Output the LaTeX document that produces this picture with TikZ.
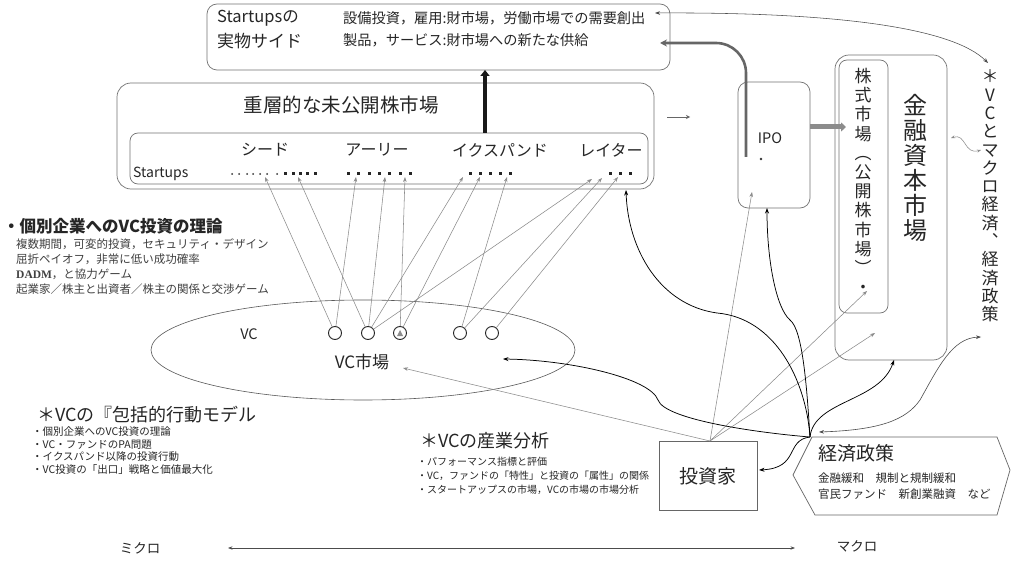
\documentclass[tikz,border=0pt]{standalone}
\usepackage{fontspec}
\setmainfont{Noto Sans CJK JP}
\newfontfamily\serifbf{Liberation Serif}
\usetikzlibrary{arrows.meta,shapes.geometric}
\tikzset{
  box/.style={draw=black!55, line width=0.7pt, rounded corners=10pt, inner sep=0pt},
  garr/.style={draw=black!45, line width=0.55pt, -{Stealth[length=5pt,width=3.6pt]}},
  barr/.style={draw=black, line width=0.75pt, -{Stealth[length=5.5pt,width=4pt]}},
  txt/.style={inner sep=0pt, anchor=west, text=black!85},
  vtxt/.style={inner sep=0pt, align=center, text=black!85},
  vcc/.style={circle, draw=black!85, line width=0.9pt, minimum size=13pt, inner sep=0pt},
  sdot/.style={circle, fill=black!80, minimum size=2pt, inner sep=0pt},
  bdot/.style={rectangle, fill=black!85, minimum size=3pt, inner sep=0pt},
}
\begin{document}
\begin{tikzpicture}[x=1pt,y=-1pt]
\useasboundingbox (0,0) rectangle (1012,564);
\fill[white] (0,0) rectangle (1012,564);

% ---------- boxes ----------
\node[box, minimum width=463pt, minimum height=66pt] (top) at (438.5,37) {};
\node[box, minimum width=537pt, minimum height=106pt, rounded corners=14pt] (big) at (385.5,136) {};
\node[box, minimum width=518pt, minimum height=51pt, rounded corners=8pt] (inner) at (389,158.5) {};
\node[box, minimum width=72pt, minimum height=126pt] (ipo) at (774,145) {};
\node[box, minimum width=112pt, minimum height=305pt, rounded corners=14pt] (fin) at (891,207.5) {};
\node[box, minimum width=49pt, minimum height=253pt, rounded corners=8pt] (stock) at (863.5,186.5) {};
\node[draw=black!60, line width=0.7pt, minimum width=98pt, minimum height=69pt, inner sep=0pt] (inv) at (708,475.5) {};
\node[ellipse, draw=black!65, line width=0.6pt, minimum width=424pt, minimum height=100pt, inner sep=0pt] (vcm) at (363,350) {};
\draw[draw=black!60, line width=0.7pt] (793,475) -- (812,437) -- (997,437) -- (1010,470) -- (997,515) -- (815,515) -- cycle;

% ---------- top box texts ----------
\node[txt, font=\fontsize{16.5}{19}\selectfont] (t1) at (217,18) {Startupsの};
\node[txt, font=\fontsize{17}{19}\selectfont] (t2) at (217,41) {実物サイド};
\node[txt, font=\fontsize{14.2}{16}\selectfont] (t3) at (343,18) {設備投資，雇用:財市場，労働市場での需要創出};
\node[txt, font=\fontsize{14.2}{16}\selectfont] (t4) at (343,40) {製品，サービス:財市場への新たな供給};

% ---------- unlisted market ----------
\node[inner sep=0pt, text=black!85, font=\fontsize{19.5}{22}\selectfont] (bigt) at (341,105) {重層的な未公開株市場};
\node[inner sep=0pt, text=black!85, font=\fontsize{16}{18}\selectfont] (seed) at (265,150) {シード};
\node[inner sep=0pt, text=black!85, font=\fontsize{16}{18}\selectfont] (early) at (377,150) {アーリー};
\node[inner sep=0pt, text=black!85, font=\fontsize{16}{18}\selectfont] (exp) at (500,150) {イクスパンド};
\node[inner sep=0pt, text=black!85, font=\fontsize{16}{18}\selectfont] (late) at (611,150) {レイター};
\node[txt, font=\fontsize{14}{16}\selectfont] (stu) at (133,174) {Startups};
\foreach \x [count=\i] in {232,239,247,253,260,267,277}
  \node[sdot] (sd\i) at (\x,174) {};
\foreach \x [count=\i] in {285,293,300,307,315}
  \node[bdot] (sb\i) at (\x,174) {};
\foreach \x [count=\i] in {348,358,369,379,389,400,410}
  \node[bdot] (ed\i) at (\x,174) {};
\foreach \x [count=\i] in {470,480,490,500,510}
  \node[bdot] (xd\i) at (\x,174) {};
\foreach \x [count=\i] in {610,620,630}
  \node[bdot] (ld\i) at (\x,174) {};

% thick black arrow up
\coordinate (thkS) at (485,133);
\coordinate (thkE) at (485,70);
\draw[line width=3.6pt, draw=black!90, -{Triangle[length=6pt,width=9pt]}] (thkS) -- (thkE);

% ---------- IPO ----------
\node[inner sep=0pt, text=black!85, font=\fontsize{14.5}{16}\selectfont] (ipot) at (770,138) {IPO};
\node[sdot, minimum size=2.8pt] (ipod) at (761,159) {};
\coordinate (gS) at (746,157);
\coordinate (gE) at (660,43);
\draw[draw=black!60, line width=2.6pt, rounded corners=30pt, -{Stealth[length=7pt,width=7pt]}] (gS) -- (746,43) -- (gE);
\coordinate (smA) at (667,117);
\coordinate (smB) at (690,117);
\draw[draw=black!60, line width=0.6pt, double distance=1pt, -{Stealth[length=4pt,width=4pt]}] (smA) -- (smB);
\coordinate (tgA) at (810,127);
\coordinate (tgB) at (846,127);
\draw[draw=black!45, line width=5pt, -{Triangle[length=5pt,width=9pt]}] (tgA) -- (tgB);

% ---------- capital market ----------
\node[vtxt, font=\fontsize{24}{25}\selectfont] (fint) at (915,168) {金\\融\\資\\本\\市\\場};
\node[vtxt, font=\fontsize{17}{19.2}\selectfont] (stockt) at (863,181) {株\\式\\市\\場\\︵\\公\\開\\株\\市\\場\\︶\\・};
\node[vtxt, font=\fontsize{17}{18.3}\selectfont] (macro) at (990,196) {＊\\V\\C\\と\\マ\\ク\\ロ\\経\\済\\︑\\経\\済\\政\\策};

% top curve double arrow
\coordinate (tcA) at (655,13);
\coordinate (tcB) at (988,63);
\draw[draw=black!70, line width=0.55pt, {Stealth[length=5pt,width=3.6pt]}-{Stealth[length=5pt,width=3.6pt]}] (tcA) .. controls (850,12) and (955,30) .. (tcB);
% wavy double arrow
\coordinate (wvA) at (951,138);
\coordinate (wvB) at (981,150);
\draw[draw=black!45, line width=0.55pt, {Stealth[length=4pt,width=3pt]}-{Stealth[length=4pt,width=3pt]}] (wvA) .. controls (966,133) and (964,155) .. (wvB);

% ---------- left texts ----------
\node[txt, font=\fontsize{16.5}{20}\selectfont\bfseries] (kb) at (3,226) {・個別企業へのVC投資の理論};
\node[txt, align=left, text=black!75, font=\fontsize{11.5}{14.8}\selectfont] (kbl) at (16,266.5) {複数期間，可変的投資，セキュリティ・デザイン\\屈折ペイオフ，非常に低い成功確率\\{\serifbf\bfseries DADM}，と協力ゲーム\\起業家／株主と出資者／株主の関係と交渉ゲーム};

% ---------- VC market ----------
\node[inner sep=0pt, text=black!85, font=\fontsize{14.5}{16}\selectfont] (vct) at (249,334) {VC};
\node[inner sep=0pt, text=black!85, font=\fontsize{17}{19}\selectfont] (vcmt) at (362,362) {VC市場};
\node[vcc] (c1) at (335,333) {};
\node[vcc] (c2) at (368,333) {};
\node[vcc] (c3) at (400,333) {};
\node[vcc] (c4) at (460,333) {};
\node[vcc] (c5) at (492,333) {};
\fill[black!45] (397,336) -- (400,330) -- (403,336) -- cycle;

% arrow tips at dots
\coordinate (p1) at (265,177);
\coordinate (p2) at (298,177);
\coordinate (p3) at (356,177);
\coordinate (p4) at (385,177);
\coordinate (p5) at (405,177);
\coordinate (p6) at (463,177);
\coordinate (p7) at (480,177);
\coordinate (p8) at (507,177);
\coordinate (p9) at (592,179);
\coordinate (p10) at (602,178);
\coordinate (p11) at (618,177);
\draw[garr] (c1) -- (p1);
\draw[garr] (c1) -- (p3);
\draw[garr] (c2) -- (p2);
\draw[garr] (c2) -- (p4);
\draw[garr] (c2) -- (p6);
\draw[garr] (c2) -- (p9);
\draw[garr] (c3) -- (p5);
\draw[garr] (c3) -- (p7);
\draw[garr] (c4) -- (p8);
\draw[garr] (c4) -- (p10);
\draw[garr] (c5) -- (p11);

% ---------- lower texts ----------
\node[txt, font=\fontsize{18}{20}\selectfont] (bm) at (37,415) {＊VCの『包括的行動モデル};
\node[txt, align=left, font=\fontsize{10.5}{12.4}\selectfont] (bml) at (32,450.5) {・個別企業へのVC投資の理論\\・VC・ファンドのPA問題\\・イクスパンド以降の投資行動\\・VC投資の「出口」戦略と価値最大化};
\node[txt, font=\fontsize{18}{20}\selectfont] (ia) at (420,441) {＊VCの産業分析};
\node[txt, align=left, font=\fontsize{10}{14}\selectfont] (ial) at (417,476) {・パフォーマンス指標と評価\\・VC，ファンドの「特性」と投資の「属性」の関係\\・スタートアップスの市場，VCの市場の市場分析};
\node[inner sep=0pt, text=black!85, font=\fontsize{19}{21}\selectfont] (invt) at (708,476) {投資家};
\node[txt, font=\fontsize{19}{21}\selectfont] (ep) at (818,453) {経済政策};
\node[txt, align=left, font=\fontsize{11.5}{16}\selectfont] (epl) at (818,486) {金融緩和　規制と規制緩和\\官民ファンド　新創業融資　など};

% ---------- investor lines ----------
\coordinate (invtop) at (710,441);
\coordinate (q1) at (403,368);
\coordinate (q2) at (752,192);
\coordinate (q3) at (867,291);
\coordinate (q4) at (875,333);
\draw[garr] (invtop) -- (q1);
\draw[garr] (invtop) -- (q2);
\draw[garr] (invtop) -- (q3);
\draw[garr] (invtop) -- (q4);

% ---------- policy curves ----------
\coordinate (hub) at (810,437);
\coordinate (hubR) at (819,432);
\coordinate (r1) at (626,190);
\coordinate (r2) at (767,208);
\coordinate (r3) at (503,359);
\coordinate (r4) at (894,360);
\coordinate (r5) at (981,337);
\coordinate (r6) at (759,470);
\draw[barr] (hub) .. controls (806,380) and (775,318) .. (717,313) .. controls (660,305) and (628,250) .. (r1);
\draw[barr] (hub) .. controls (807,390) and (803,330) .. (790,320) .. controls (776,308) and (767,260) .. (r2);
\draw[barr] (hub) .. controls (760,433) and (665,420) .. (658,400) .. controls (650,378) and (570,360) .. (r3);
\draw[barr] (hub) .. controls (814,400) and (880,402) .. (r4);
\draw[barr] (hub) .. controls (785,440) and (800,468) .. (r6);
\draw[draw=black!70, line width=0.6pt, {Stealth[length=5pt,width=3.6pt]}-{Stealth[length=5pt,width=3.6pt]}] (hubR) .. controls (880,430) and (906,420) .. (920,400) .. controls (938,368) and (952,338) .. (r5);

% ---------- micro / macro ----------
\node[inner sep=0pt, text=black!85, font=\fontsize{13.5}{15}\selectfont] (mic) at (140,548) {ミクロ};
\node[inner sep=0pt, text=black!85, font=\fontsize{13.5}{15}\selectfont] (mac) at (857,546) {マクロ};
\coordinate (mA) at (228,548);
\coordinate (mB) at (795,548);
\draw[draw=black!70, line width=0.8pt, {Stealth[length=4.5pt,width=3.4pt]}-{Stealth[length=4.5pt,width=3.4pt]}] (mA) -- (mB);
\end{tikzpicture}
\end{document}
